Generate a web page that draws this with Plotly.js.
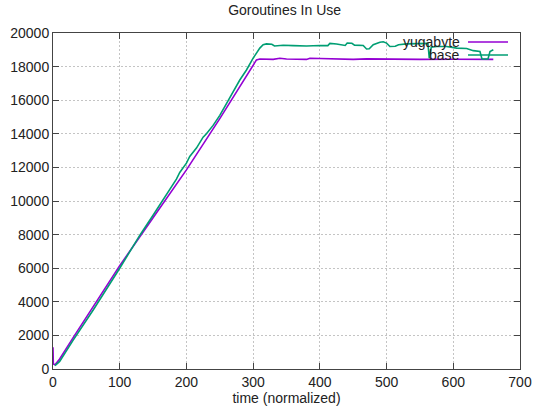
<!DOCTYPE html>
<html>
<head>
<meta charset="utf-8">
<script src="https://cdn.plot.ly/plotly-3.0.1.min.js"></script>
<style>html,body{margin:0;padding:0;background:#fff;}#chart{width:537px;height:408px;}</style>
</head>
<body>
<div id="chart"></div>
<script>
// yugabyte series
const yugaX = [0, 0.5, 3, 10, 30, 50, 100, 150, 200, 250, 280, 300, 305, 310, 330, 340, 350, 380, 385, 400, 420, 450, 470, 500, 520, 550, 600, 630, 650, 660];
const yugaY = [1300, 300, 250, 600, 1850, 3100, 6150, 9000, 11850, 14900, 16800, 18000, 18400, 18450, 18430, 18500, 18450, 18430, 18500, 18480, 18450, 18430, 18460, 18440, 18430, 18430, 18440, 18430, 18430, 18430];
// base series
const baseX = [3, 10, 30, 60, 100, 130, 150, 170, 185, 190, 200, 205, 215, 225, 230, 240, 250, 260, 270, 280, 290, 300, 310, 315, 320, 328, 332, 345, 360, 380, 400, 412, 415, 425, 438, 441, 448, 452, 465, 470, 474, 480, 490, 495, 500, 505, 513, 518, 530, 545, 555, 562, 564, 567, 575, 590, 605, 620, 630, 640, 643, 652, 655, 660];
const baseY = [200, 450, 1700, 3500, 6000, 7950, 9150, 10400, 11300, 11700, 12250, 12650, 13150, 13800, 14000, 14500, 15100, 15800, 16500, 17200, 17800, 18500, 19100, 19300, 19350, 19330, 19230, 19270, 19250, 19230, 19260, 19250, 19380, 19350, 19260, 19400, 19390, 19280, 19260, 19050, 19060, 19300, 19450, 19480, 19400, 19200, 19210, 19300, 19350, 19380, 19400, 19380, 18500, 19150, 19200, 19200, 19100, 19080, 18950, 18900, 18450, 18450, 18900, 19000];
const seriesNames = ["yugabyte", "base"];
const seriesColors = ["#9400D3", "#009E73"];
const xTicks = [0, 100, 200, 300, 400, 500, 600, 700];
const yTicks = [0, 2000, 4000, 6000, 8000, 10000, 12000, 14000, 16000, 18000, 20000];

const font = {family: "Liberation Sans, Arial, sans-serif", size: 14, color: "#222"};
const traces = [
  {x: yugaX, y: yugaY, mode: "lines", name: seriesNames[0], line: {color: seriesColors[0], width: 1.6, shape: "linear"}, showlegend: false},
  {x: baseX, y: baseY, mode: "lines", name: seriesNames[1], line: {color: seriesColors[1], width: 1.6, shape: "linear"}, showlegend: false}
];
const axisCommon = {
  showline: true, linecolor: "#444", linewidth: 1, mirror: "ticks",
  ticks: "inside", ticklen: 6, tickcolor: "#444",
  showgrid: true, gridcolor: "#c4c4c4", griddash: "2px,2px", gridwidth: 1,
  zeroline: false, tickfont: font
};
const layout = {
  width: 537, height: 408,
  margin: {l: 53, r: 17, t: 33, b: 39},
  paper_bgcolor: "#fff", plot_bgcolor: "#fff",
  font: font,
  title: {text: "Goroutines In Use", x: 0.53, xanchor: "center", y: 0.975, yanchor: "middle", font: {family: font.family, size: 14, color: "#222"}},
  xaxis: Object.assign({}, axisCommon, {range: [0, 700], tickvals: xTicks, ticktext: xTicks.map(String),
    title: {text: "time (normalized)", font: {family: font.family, size: 14, color: "#222"}, standoff: 2}}),
  yaxis: Object.assign({}, axisCommon, {range: [0, 20000], tickvals: yTicks, ticktext: yTicks.map(String)}),
  annotations: seriesNames.map((n, i) => ({
    xref: "paper", yref: "paper", x: 0.8758, y: [0.9732, 0.9345][i],
    text: n, showarrow: false, xanchor: "right", yanchor: "middle",
    font: {family: font.family, size: 14, color: "#222"}
  })),
  shapes: seriesNames.map((n, i) => ({
    type: "line", xref: "paper", yref: "paper",
    x0: 0.8887, x1: 0.9743, y0: [0.9732, 0.9345][i], y1: [0.9732, 0.9345][i],
    line: {color: seriesColors[i], width: 1.6}
  }))
};
Plotly.newPlot("chart", traces, layout, {staticPlot: true, displayModeBar: false});
</script>
</body>
</html>
